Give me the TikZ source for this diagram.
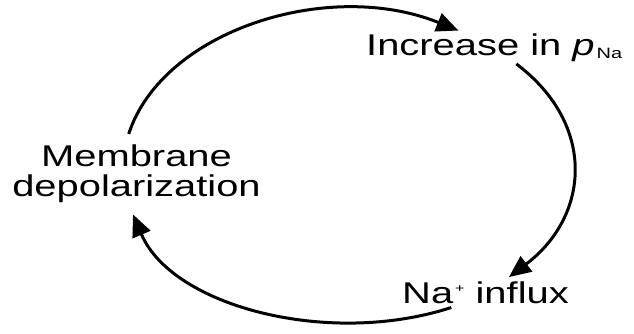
\documentclass[tikz,border=0pt]{standalone}
\usepackage{fontspec}
\setmainfont{Liberation Sans}[FakeStretch=1.33]
\usetikzlibrary{arrows.meta}
\begin{document}
\begin{tikzpicture}[x=1pt, y=1pt,
	cycletext/.style={font=\fontsize{30}{30}\selectfont, inner sep=0pt},
	cyclearrow/.style={line width=3pt, -{Triangle[length=22pt, width=19pt]}}]
	\useasboundingbox (0,0) rectangle (634,333);

	\node[cycletext, align=center, inner sep=11pt] (mem) at (136.5,158.8) {Membrane\\depolarization};
	\node[cycletext, anchor=base west, inner sep=2.5pt] (inc) at (363.5,278) {Increase in \textit{p}\kern2pt\raisebox{-3pt}{\fontsize{15}{15}\selectfont Na}};
	\node[cycletext, anchor=base west, inner sep=4pt] (nai) at (398,30) {Na\kern2pt\raisebox{10.5pt}{\fontsize{12}{12}\selectfont +} influx};

	\draw[cyclearrow] (mem.101) .. controls +(72:109) and +(158:140) .. (inc.155);
	\draw[cyclearrow] (inc.-37) .. controls +(-37:101) and +(37:101) .. (nai.33);
	\draw[cyclearrow] (nai.204) .. controls +(198:129) and +(-67:100) .. (mem.265);
\end{tikzpicture}
\end{document}
